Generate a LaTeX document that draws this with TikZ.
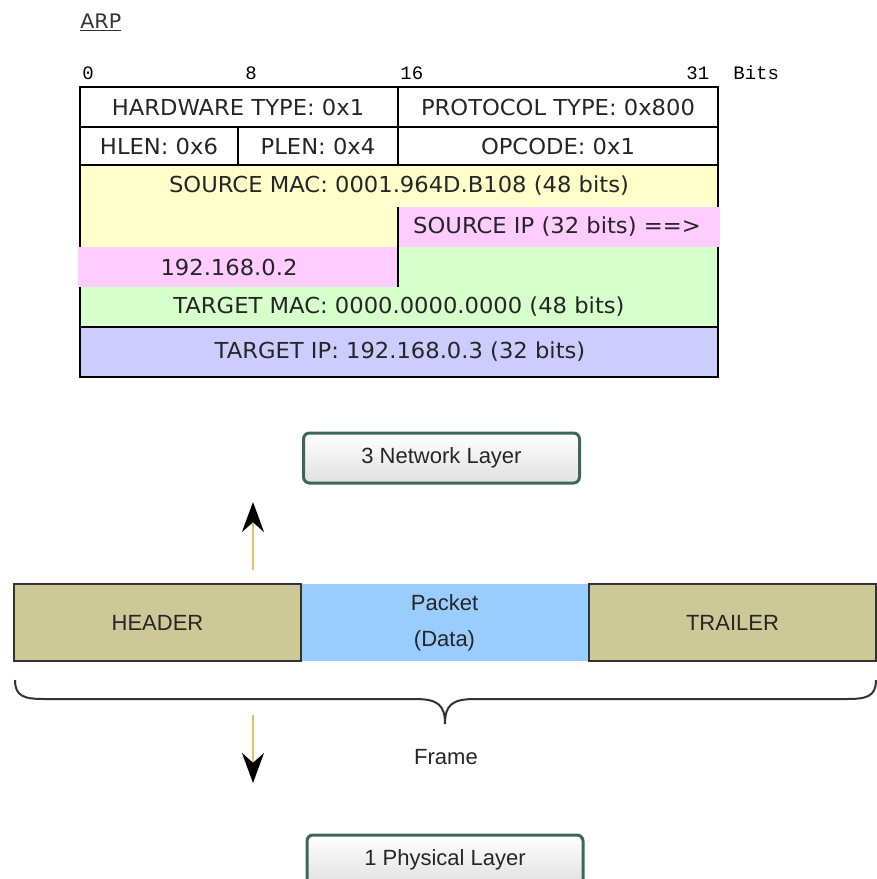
\documentclass[tikz,border=0pt]{standalone}
\usepackage{fontspec}
\setmainfont{DejaVu Sans}
\newfontfamily\tblfont{DejaVu Sans}[FakeStretch=1.03]
\newfontfamily\bitfont{Liberation Mono}
\newfontfamily\layfont{Liberation Sans}
\usetikzlibrary{arrows.meta}
\definecolor{macyellow}{HTML}{FFFFCC}
\definecolor{ippink}{HTML}{FFCCFF}
\definecolor{tgtgreen}{HTML}{D6FFCC}
\definecolor{tgtblue}{HTML}{CCCCFF}
\definecolor{hdrolive}{HTML}{CCC996}
\definecolor{datablue}{HTML}{99CCFF}
\definecolor{shaftorange}{HTML}{EBBB66}
\definecolor{layeredge}{HTML}{3E665D}
\tikzset{
  field/.style={font=\tblfont\fontsize{11}{13}\selectfont, text=black!85, inner sep=0pt},
  bitno/.style={font=\bitfont\fontsize{9.5}{11}\selectfont, anchor=base west, inner sep=0pt},
  framepart/.style={draw=black!80, line width=1pt, anchor=north west, minimum width=143.5pt,
    minimum height=38.5pt, inner sep=0pt, font=\layfont\fontsize{11}{18}\selectfont, text=black!85},
  layerbox/.style={draw=layeredge, line width=1.5pt, rounded corners=3pt, top color=white,
    bottom color=black!12, minimum width=138pt, minimum height=25pt, inner sep=0pt,
    font=\layfont\fontsize{11}{13}\selectfont, text=black!85},
  updown/.style={draw=shaftorange, line width=1.2pt, -{Stealth[length=15pt,width=11pt,black]}}
}

\begin{document}
\begin{tikzpicture}[x=0.5pt,y=-0.5pt]
  \useasboundingbox (0,0) rectangle (877,879);

  % ARP packet
  \node[font=\tblfont\fontsize{10}{12}\selectfont, text=black!80, anchor=base west, inner sep=0pt] (title) at (80,28) {\underline{ARP}};
  \node[bitno] (b0) at (82,79) {0};
  \node[bitno] (b8) at (245,79) {8};
  \node[bitno] (b16) at (400,79) {16};
  \node[bitno] (b31) at (686,79) {31};
  \node[bitno] (bits) at (733,79) {Bits};

  \fill[macyellow] (80,165) rectangle (718,207);
  \fill[macyellow] (80,207) rectangle (398,247);
  \fill[tgtgreen] (398,247) rectangle (718,287);
  \fill[tgtgreen] (80,287) rectangle (718,327);
  \fill[tgtblue] (80,327) rectangle (718,377);
  \draw[line width=1pt] (80,87) rectangle (718,377);
  \draw[line width=1pt] (80,127) -- (718,127);
  \draw[line width=1pt] (80,165) -- (718,165);
  \draw[line width=1pt] (80,327) -- (718,327);
  \draw[line width=1pt] (398,87) -- (398,165);
  \draw[line width=1pt] (238,127) -- (238,165);
  \fill[ippink] (398,207) rectangle (720,247);
  \fill[ippink] (78,247) rectangle (398,287);
  \draw[line width=1pt] (398,207) -- (398,287);

  \node[field] (hwtype) at (238,107) {HARDWARE TYPE: 0x1};
  \node[field] (prtype) at (558,107) {PROTOCOL TYPE: 0x800};
  \node[field] (hlen) at (159,146) {HLEN: 0x6};
  \node[field] (plen) at (318,146) {PLEN: 0x4};
  \node[field] (opcode) at (558,146) {OPCODE: 0x1};
  \node[field] (srcmac) at (399,186) {SOURCE MAC: 0001.964D.B108 (48 bits)};
  \node[field] (srcip) at (557,227) {SOURCE IP (32 bits) ==>};
  \node[field] (srcipval) at (229,267) {192.168.0.2};
  \node[field] (tgtmac) at (399,307) {TARGET MAC: 0000.0000.0000 (48 bits)};
  \node[field] (tgtip) at (400,352) {TARGET IP: 192.168.0.3 (32 bits)};

  % layers and frame
  \node[layerbox] (net) at (441.5,458) {3 Network Layer};
  \coordinate (upfrom) at (253,570);
  \coordinate (upto) at (253,502);
  \draw[updown] (upfrom) -- (upto);

  \node[framepart, fill=datablue, draw=none, align=center] (packet) at (300,583) {Packet\\(Data)};
  \node[framepart, fill=hdrolive] (header) at (13,583) {HEADER};
  \node[framepart, fill=hdrolive] (trailer) at (588,583) {TRAILER};

  \coordinate (bracetip) at (445,724);
  \draw[line width=1pt, black!80] (15,680) .. controls (15,697) and (25,699) .. (45,699) -- (415,699)
    .. controls (438,699) and (445,705) .. (bracetip)
    .. controls (445,705) and (452,699) .. (475,699) -- (846,699)
    .. controls (866,699) and (876,697) .. (876,680);
  \node[font=\layfont\fontsize{11}{13}\selectfont, text=black!85] (frame) at (446,757) {Frame};

  \coordinate (downfrom) at (253,715);
  \coordinate (downto) at (253,783);
  \draw[updown] (downfrom) -- (downto);

  \begin{scope}
    \clip (0,0) rectangle (877,879);
    \node[layerbox] (phys) at (445,860) {1 Physical Layer};
  \end{scope}
\end{tikzpicture}
\end{document}
